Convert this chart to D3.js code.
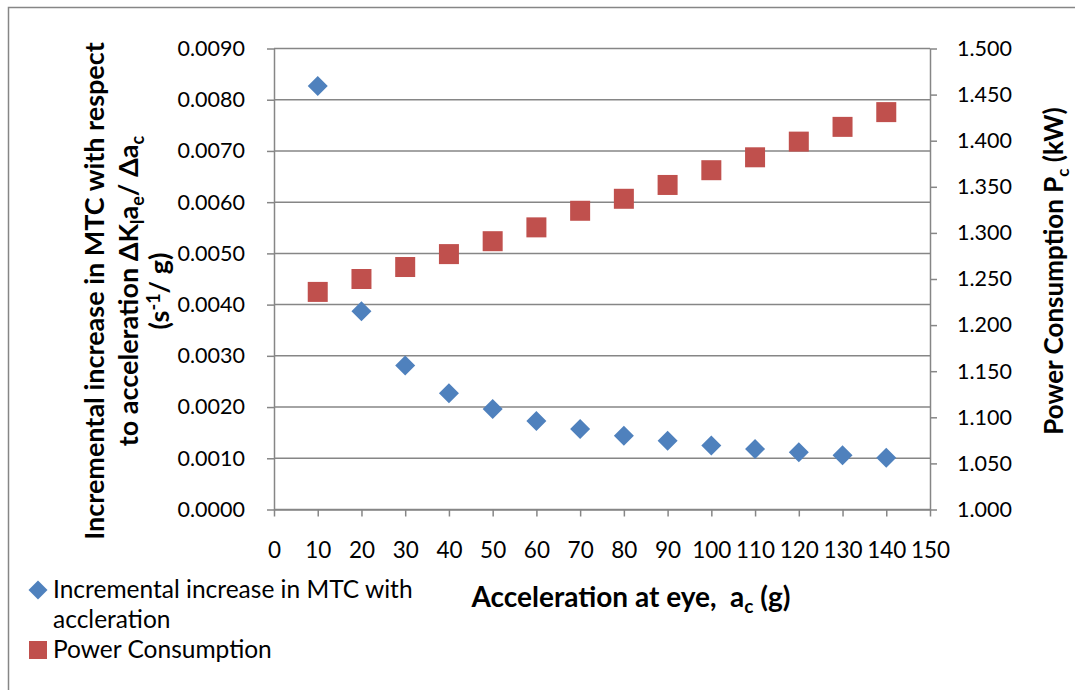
<!DOCTYPE html>
<html>
<head>
<meta charset="utf-8">
<script src="https://cdn.jsdelivr.net/npm/d3@7"></script>
<style>
  html, body { margin: 0; padding: 0; background: #fff; }
  svg { display: block; }
  text { font-family: Lato, "Open Sans", sans-serif; fill: #000; }
</style>
</head>
<body>
<svg id="chart" width="1075" height="690"></svg>
<script>
// Acceleration at eye (g)
const accel = [10, 20, 30, 40, 50, 60, 70, 80, 90, 100, 110, 120, 130, 140];
// Incremental increase in MTC with respect to acceleration (s^-1 / g)
const mtcIncrement = [0.00827, 0.00387, 0.00281, 0.00227, 0.00196, 0.00173, 0.00157,
                      0.00144, 0.00134, 0.00125, 0.00118, 0.00112, 0.00106, 0.00101];
// Power consumption (kW)
const power = [1.236, 1.250, 1.263, 1.277, 1.291, 1.306, 1.324,
               1.337, 1.352, 1.368, 1.382, 1.399, 1.415, 1.431];

const xTicks = d3.range(0, 151, 10);
const leftTicks = d3.range(0, 0.00901, 0.001);
const rightTicks = d3.range(1.0, 1.5001, 0.05);

const svg = d3.select("#chart");
const plot = { left: 274, right: 930, top: 48.5, bottom: 509.5 };

const x = d3.scaleLinear().domain([0, 150]).range([plot.left, plot.right]);
const yL = d3.scaleLinear().domain([0, 0.009]).range([plot.bottom, plot.top]);
const yR = d3.scaleLinear().domain([1.0, 1.5]).range([plot.bottom, plot.top]);

const axisColor = "#868686";
const blue = "#4F81BD";
const red = "#C0504D";

// outer chart frame
svg.append("rect")
  .attr("x", 8.5).attr("y", 7.5)
  .attr("width", 1100).attr("height", 720)
  .attr("fill", "none").attr("stroke", axisColor).attr("stroke-width", 1.5);

// horizontal gridlines
svg.append("g")
  .selectAll("line")
  .data(leftTicks)
  .join("line")
  .attr("x1", plot.left).attr("x2", plot.right)
  .attr("y1", d => yL(d)).attr("y2", d => yL(d))
  .attr("stroke", axisColor).attr("stroke-width", 1.5);

function styleAxis(size) {
  return g => {
    g.select(".domain").attr("stroke", axisColor).attr("stroke-width", 1.5);
    g.selectAll(".tick line").attr("stroke", axisColor).attr("stroke-width", 1.5);
    g.selectAll(".tick text").attr("font-size", size).attr("font-family", "Lato, sans-serif").attr("fill", "#000");
  };
}

// left axis
svg.append("g")
  .attr("transform", `translate(${plot.left},0)`)
  .call(d3.axisLeft(yL).tickValues(leftTicks).tickSize(7).tickSizeOuter(0)
        .tickPadding(22).tickFormat(d3.format(".4f")))
  .call(styleAxis(21.5));

// right axis
svg.append("g")
  .attr("transform", `translate(${plot.right},0)`)
  .call(d3.axisRight(yR).tickValues(rightTicks).tickSize(7).tickSizeOuter(0)
        .tickPadding(20).tickFormat(d3.format(".3f")))
  .call(styleAxis(21.5));

// bottom axis
svg.append("g")
  .attr("transform", `translate(0,${plot.bottom})`)
  .call(d3.axisBottom(x).tickValues(xTicks).tickSize(7).tickSizeOuter(0)
        .tickPadding(26).tickFormat(d3.format("d")))
  .call(styleAxis(22.5));

// power consumption squares (right axis)
const sq = 20;
svg.append("g")
  .selectAll("rect")
  .data(accel.map((a, i) => [a, power[i]]))
  .join("rect")
  .attr("x", d => x(d[0]) - sq / 2)
  .attr("y", d => yR(d[1]) - sq / 2)
  .attr("width", sq).attr("height", sq)
  .attr("fill", red);

// MTC increment diamonds (left axis)
const diamond = d3.symbol().type(d3.symbolSquare).size(200);
svg.append("g")
  .selectAll("path")
  .data(accel.map((a, i) => [a, mtcIncrement[i]]))
  .join("path")
  .attr("d", diamond)
  .attr("transform", d => `translate(${x(d[0])},${yL(d[1])}) rotate(45)`)
  .attr("fill", blue);

// left axis title (three lines, rotated)
const lt = svg.append("text")
  .attr("transform", "translate(0,291) rotate(-90)")
  .attr("text-anchor", "middle")
  .attr("font-weight", "bold")
  .attr("font-size", 27);
lt.append("tspan").attr("x", 0).attr("y", 104).text("Incremental increase in MTC with respect");
const l2 = lt.append("tspan").attr("x", 0).attr("y", 138);
l2.append("tspan").text("to acceleration ΔK");
l2.append("tspan").attr("font-size", 18).attr("dy", 6).text("l");
l2.append("tspan").attr("dy", -6).text("a");
l2.append("tspan").attr("font-size", 18).attr("dy", 6).text("e");
l2.append("tspan").attr("dy", -6).text("/ Δa");
l2.append("tspan").attr("font-size", 18).attr("dy", 6).text("c");
const l3 = lt.append("tspan").attr("x", 0).attr("y", 169);
l3.append("tspan").text("(s");
l3.append("tspan").attr("font-size", 18).attr("dy", -9).text("-1");
l3.append("tspan").attr("dy", 9).text("/ g)");

// right axis title
const rt = svg.append("text")
  .attr("transform", "translate(1063,271) rotate(-90)")
  .attr("text-anchor", "middle")
  .style("font-weight", "700")
  .style("font-size", "26px");
rt.append("tspan").text("Power Consumption P");
rt.append("tspan").style("font-size", "17px").attr("dy", 6).text("c");
rt.append("tspan").attr("dy", -6).text(" (kW)");

// x axis title
const xt = svg.append("text")
  .attr("x", 631).attr("y", 607)
  .attr("text-anchor", "middle")
  .attr("font-weight", "bold")
  .attr("font-size", 28)
  .attr("xml:space", "preserve");
xt.append("tspan").text("Acceleration at eye,\u00a0 a");
xt.append("tspan").attr("font-size", 19).attr("dy", 6).text("c");
xt.append("tspan").attr("dy", -6).text(" (g)");

// legend
const leg = svg.append("g");
leg.append("path")
  .attr("d", d3.symbol().type(d3.symbolSquare).size(180))
  .attr("transform", "translate(38,590) rotate(45)")
  .attr("fill", blue);
leg.append("text").attr("x", 53).attr("y", 598).attr("font-size", 24.5)
  .text("Incremental increase in MTC with");
leg.append("text").attr("x", 53).attr("y", 628).attr("font-size", 24.5)
  .text("accleration");
leg.append("rect")
  .attr("x", 29).attr("y", 641).attr("width", 18).attr("height", 18)
  .attr("fill", red);
leg.append("text").attr("x", 53).attr("y", 658).attr("font-size", 24.5)
  .text("Power Consumption");
</script>
</body>
</html>
